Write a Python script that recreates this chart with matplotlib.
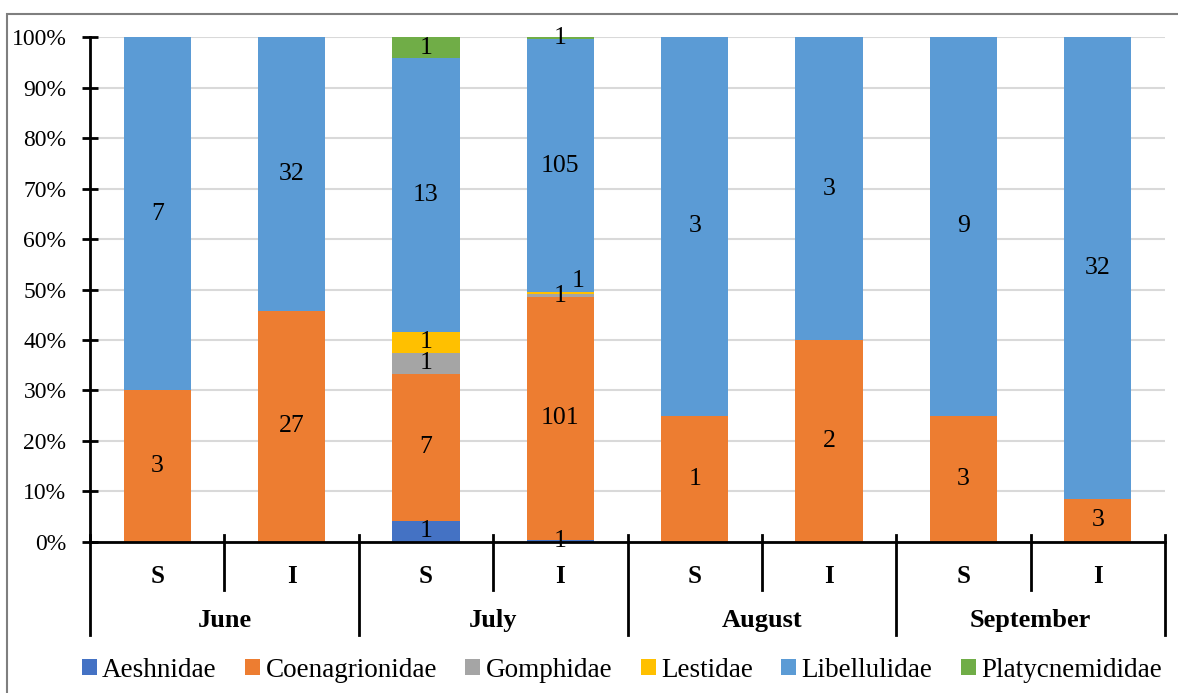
import matplotlib.pyplot as plt
import numpy as np
from matplotlib.patches import Rectangle
from matplotlib.transforms import blended_transform_factory

plt.rcParams["font.family"] = ["Liberation Serif", "DejaVu Serif"]

months = ["June", "July", "August", "September"]
sites = ["S", "I", "S", "I", "S", "I", "S", "I"]
families = ["Aeshnidae", "Coenagrionidae", "Gomphidae", "Lestidae",
            "Libellulidae", "Platycnemididae"]
colors = ["#4472C4", "#ED7D31", "#A5A5A5", "#FFC000", "#5B9BD5", "#70AD47"]

# counts per family, one value per bar (June S, June I, July S, ... September I)
aeshnidae = [0, 0, 1, 1, 0, 0, 0, 0]
coenagrionidae = [3, 27, 7, 101, 1, 2, 3, 3]
gomphidae = [0, 0, 1, 1, 0, 0, 0, 0]
lestidae = [0, 0, 1, 1, 0, 0, 0, 0]
libellulidae = [7, 32, 13, 105, 3, 3, 9, 32]
platycnemididae = [0, 0, 1, 1, 0, 0, 0, 0]

counts = np.array([aeshnidae, coenagrionidae, gomphidae, lestidae,
                   libellulidae, platycnemididae], dtype=float)
shares = counts / counts.sum(axis=0) * 100

fig = plt.figure(figsize=(11.78, 6.93), dpi=100)
ax = fig.add_axes([0.0764, 0.2179, 0.9126, 0.7287])

x = np.arange(len(sites)) + 0.5
bottom = np.zeros(len(sites))
for fi, (name, col) in enumerate(zip(families, colors)):
    ax.bar(x, shares[fi], 0.5, bottom=bottom, color=col, label=name, zorder=2)
    for bi in range(len(sites)):
        if counts[fi, bi] == 0:
            continue
        cx = x[bi]
        cy = bottom[bi] + shares[fi, bi] / 2
        # nudge the crowded labels of the thin July I segments
        if bi == 3 and name == "Lestidae":
            cx += 0.13
            cy += 2.4
        ax.text(cx, cy, f"{int(counts[fi, bi])}", ha="center", va="center",
                fontsize=18.5, color="black", zorder=3)
    bottom += shares[fi]

ax.set_xlim(0, len(sites))
ax.set_ylim(0, 100)
ax.set_yticks(np.arange(0, 101, 10))
ax.set_yticklabels([f"{v}%" for v in range(0, 101, 10)], fontsize=17)
ax.set_xticks([])
ax.yaxis.grid(True, color="#D9D9D9", linewidth=1.5, zorder=0)
ax.set_axisbelow(True)
ax.tick_params(axis="y", direction="inout", length=12, width=2, pad=11)
for side in ["top", "right"]:
    ax.spines[side].set_visible(False)
ax.spines["left"].set_linewidth(2)
ax.spines["bottom"].set_linewidth(2)

# two-level category axis drawn below the plot
tr = blended_transform_factory(ax.transData, ax.transAxes)
for b in range(len(sites) + 1):
    low = -0.185 if b % 2 == 0 else -0.095
    ax.plot([b, b], [0.014, low], color="black", lw=2,
            transform=tr, clip_on=False)
for xi, s in zip(x, sites):
    ax.text(xi, -0.069, s, transform=tr, ha="center", va="center",
            fontsize=18, fontweight="bold")
for mi, m in enumerate(months):
    ax.text(2 * mi + 1, -0.156, m, transform=tr, ha="center", va="center",
            fontsize=19, fontweight="bold")

fig.legend(loc="center", bbox_to_anchor=(0.528, 0.033), ncol=6,
           frameon=False, fontsize=19.5, handlelength=0.55, handleheight=0.55,
           handletextpad=0.2, columnspacing=1.05)

fig.patches.append(Rectangle((0.006, -0.2), 1.2, 1.18, transform=fig.transFigure,
                             fill=False, edgecolor="#7F7F7F", linewidth=1.5))

fig.savefig("out.png", dpi=100)
